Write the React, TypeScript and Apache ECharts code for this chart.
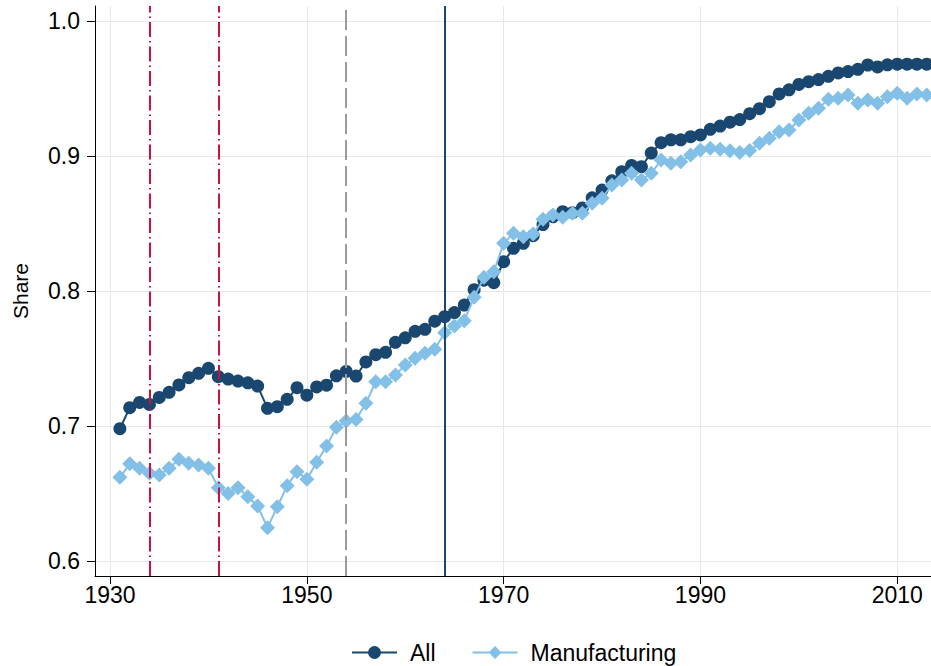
import React, { useEffect, useRef } from "react";
import * as echarts from "echarts";

// Annual shares, 1931 onwards
const FIRST_YEAR = 1931;

const allShare = [
  0.698, 0.7136, 0.7175, 0.716, 0.7212, 0.725, 0.7304, 0.7358, 0.739, 0.7427,
  0.7365, 0.7348, 0.7333, 0.732, 0.7296, 0.7131, 0.7143, 0.7198, 0.7284, 0.7228,
  0.7289, 0.7302, 0.7372, 0.7404, 0.737, 0.7475, 0.7528, 0.7546, 0.762, 0.7653,
  0.7701, 0.7716, 0.7776, 0.781, 0.784, 0.7896, 0.801, 0.808, 0.8062, 0.8217,
  0.8316, 0.8353, 0.841, 0.8492, 0.855, 0.8587, 0.858, 0.8615, 0.869, 0.8748,
  0.8816, 0.8884, 0.893, 0.8921, 0.9022, 0.9099, 0.912, 0.912, 0.9143, 0.9156,
  0.9198, 0.9222, 0.925, 0.927, 0.9313, 0.935, 0.9402, 0.946, 0.949, 0.953,
  0.955, 0.9566, 0.959, 0.9615, 0.9625, 0.9642, 0.9674, 0.966, 0.9675, 0.968,
  0.968, 0.968, 0.968,
];

const manufacturingShare = [
  0.662, 0.672, 0.6687, 0.665, 0.6637, 0.6687, 0.6753, 0.6724, 0.6711, 0.6687,
  0.6543, 0.6501, 0.6543, 0.6476, 0.6407, 0.6247, 0.6402, 0.6558, 0.6662, 0.6605,
  0.6731, 0.6852, 0.699, 0.7037, 0.7048, 0.7168, 0.7328, 0.7328, 0.7378, 0.7452,
  0.7501, 0.7538, 0.7568, 0.769, 0.774, 0.778, 0.7953, 0.8101, 0.8143, 0.8353,
  0.8427, 0.8402, 0.8422, 0.8531, 0.8563, 0.8546, 0.8575, 0.8575, 0.865, 0.8687,
  0.8785, 0.8822, 0.8872, 0.8822, 0.8872, 0.897, 0.8946, 0.8958, 0.9007, 0.9044,
  0.9057, 0.905, 0.9039, 0.9025, 0.904, 0.9094, 0.9131, 0.918, 0.9193, 0.9267,
  0.9316, 0.9353, 0.942, 0.9427, 0.9452, 0.939, 0.9415, 0.939, 0.9439, 0.9464,
  0.9427, 0.9459, 0.9452,
];

const xTicks = [1930, 1950, 1970, 1990, 2010];
const yTicks = [0.6, 0.7, 0.8, 0.9, 1.0];

// Vertical event markers
const redMarkYears = [1934, 1941];
const greyMarkYear = 1954;
const navyMarkYear = 1964;

const NAVY = "#1a476f";
const LIGHT = "#83c0e8";
const RED = "#cc1040";
const GREY = "#9a9a9a";
const FONT = '"Liberation Sans", Arial, Helvetica, sans-serif';

const toPairs = (vals: number[]) => vals.map((v, i) => [FIRST_YEAR + i, v]);

export default function App() {
  const ref = useRef<HTMLDivElement>(null);

  useEffect(() => {
    if (!ref.current) return;
    const chart = echarts.init(ref.current, undefined, { renderer: "svg" });

    const markLineData: any[] = [
      ...redMarkYears.map((y) => ({
        xAxis: y,
        lineStyle: { color: RED, width: 2, type: [15, 4, 1.5, 4] },
      })),
      { xAxis: greyMarkYear, lineStyle: { color: GREY, width: 2, type: [20, 6] } },
      { xAxis: navyMarkYear, lineStyle: { color: NAVY, width: 2, type: "solid" } },
    ];

    chart.setOption({
      animation: false,
      backgroundColor: "#ffffff",
      textStyle: { fontFamily: FONT },
      grid: { left: 95, right: 0, top: 6, bottom: 90 },
      legend: {
        data: ["All", "Manufacturing"],
        left: 346,
        top: 636,
        itemWidth: 45,
        itemHeight: 16,
        itemGap: 36,
        textStyle: { fontSize: 23, color: "#000", fontFamily: FONT, padding: [0, 0, 0, 8] },
      },
      xAxis: {
        type: "value",
        min: 1928.47,
        max: 2013.43,
        axisLine: { show: true, onZero: false, lineStyle: { color: "#000", width: 1 } },
        axisTick: { show: true, length: 8, customValues: xTicks, lineStyle: { color: "#000" } },
        axisLabel: {
          customValues: xTicks,
          margin: 7,
          fontSize: 23,
          color: "#000",
          fontFamily: FONT,
          formatter: (v: number) => String(v),
        },
        splitLine: { show: true, lineStyle: { color: "#e8e8e8", width: 1 } },
      },
      yAxis: {
        type: "value",
        min: 0.5889,
        max: 1.0111,
        name: "Share",
        nameLocation: "middle",
        nameGap: 64,
        nameTextStyle: { fontSize: 21, color: "#000", fontFamily: FONT },
        axisLine: { show: true, onZero: false, lineStyle: { color: "#000", width: 1 } },
        axisTick: { show: true, length: 8, customValues: yTicks, lineStyle: { color: "#000" } },
        axisLabel: {
          customValues: yTicks,
          margin: 15,
          fontSize: 23,
          color: "#000",
          fontFamily: FONT,
          formatter: (v: number) => v.toFixed(1),
        },
        splitLine: { show: true, lineStyle: { color: "#e8e8e8", width: 1 } },
      },
      series: [
        {
          name: "markers",
          type: "line",
          data: [],
          z: 1,
          silent: true,
          markLine: {
            silent: true,
            symbol: ["none", "none"],
            label: { show: false },
            data: markLineData,
          },
        },
        {
          name: "All",
          type: "line",
          z: 2,
          data: toPairs(allShare),
          symbol: "circle",
          symbolSize: 13,
          showAllSymbol: true,
          lineStyle: { color: NAVY, width: 2 },
          itemStyle: { color: NAVY },
        },
        {
          name: "Manufacturing",
          type: "line",
          z: 3,
          data: toPairs(manufacturingShare),
          symbol: "diamond",
          symbolSize: 15,
          showAllSymbol: true,
          lineStyle: { color: LIGHT, width: 2 },
          itemStyle: { color: LIGHT },
        },
      ],
    });

    return () => chart.dispose();
  }, []);

  return (
    <div
      ref={ref}
      style={{ position: "fixed", left: 0, top: 0, width: 931, height: 666, background: "#fff" }}
    />
  );
}
